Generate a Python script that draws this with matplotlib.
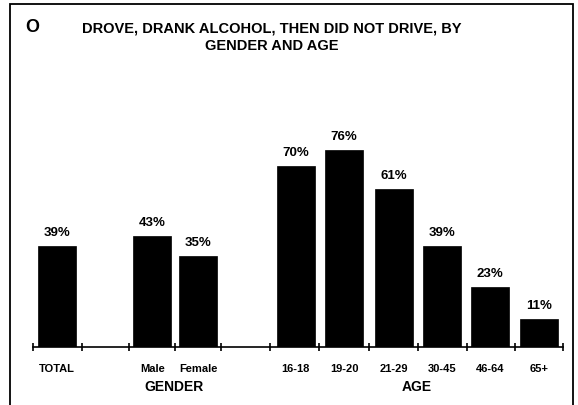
import matplotlib
matplotlib.use("Agg")
import matplotlib.pyplot as plt
from matplotlib.patches import Rectangle

plt.rcParams['font.family'] = ['Liberation Sans', 'DejaVu Sans']

# Data
categories = ["TOTAL", "Male", "Female", "16-18", "19-20", "21-29", "30-45", "46-64", "65+"]
values = [39, 43, 35, 70, 76, 61, 39, 23, 11]
group_names = ["GENDER", "AGE"]

# Layout of the bar slots (axis units)
positions = [0, 1.95, 2.9, 4.9, 5.9, 6.92, 7.92, 8.9, 9.91]
separators = [-0.5, 0.5, 1.47, 2.42, 3.36, 4.37, 5.38, 6.4, 7.42, 8.42, 9.41, 10.4]
group_centers = [2.4, 7.4]

W, H = 578, 405
fig = plt.figure(figsize=(W / 100, H / 100), dpi=100)
fig.patch.set_facecolor("white")

ax = fig.add_axes([33 / W, 1 - 347 / H, 530 / W, 259 / H])
ax.bar(positions, values, width=0.78, color="black", edgecolor="black", linewidth=0.5)
ax.set_xlim(-0.5, 10.4)
ax.set_ylim(0, 100)

for s in ["top", "right", "left"]:
    ax.spines[s].set_visible(False)
ax.spines["bottom"].set_linewidth(1.2)
ax.set_yticks([])

# Category labels as major ticks (no marks), slot separators as minor ticks
ax.set_xticks(positions)
ax.set_xticklabels(categories, fontsize=8, fontweight="bold")
ax.tick_params(axis="x", which="major", length=0, pad=12)
ax.set_xticks(separators, minor=True)
ax.tick_params(axis="x", which="minor", direction="inout", length=6, width=1.2)

for x, v in zip(positions, values):
    ax.annotate(f"{v}%", (x, v), xytext=(0, 5), textcoords="offset points",
                ha="center", va="bottom", fontsize=9.5, fontweight="bold")

for x, name in zip(group_centers, group_names):
    ax.text(x, -0.155, name, transform=ax.get_xaxis_transform(),
            ha="center", va="center", fontsize=10, fontweight="bold")

# Title block
fig.text(32 / W, 1 - 28 / H, "O", ha="center", va="center", fontsize=13, fontweight="heavy")
fig.text(272 / W, 1 - 37.5 / H, "DROVE, DRANK ALCOHOL, THEN DID NOT DRIVE, BY\nGENDER AND AGE",
         ha="center", va="center", fontsize=10.5, fontweight="bold", linespacing=1.35)

# Outer frame
fig.add_artist(Rectangle((10 / W, -0.05), 563 / W, 1.05 - 4 / H, transform=fig.transFigure,
                         fill=False, edgecolor="black", linewidth=1.3))

fig.savefig("out.png", dpi=100)
